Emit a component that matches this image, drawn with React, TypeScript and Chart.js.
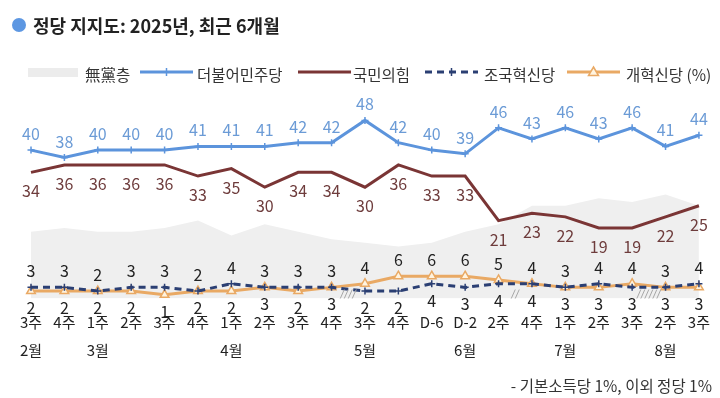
import React, { useEffect, useRef } from "react";
import { Chart, registerables } from "chart.js";

Chart.register(...registerables);

const weeks = ["3주", "4주", "1주", "2주", "3주", "4주", "1주", "2주", "3주", "4주", "3주", "4주", "D-6", "D-2", "2주", "4주", "1주", "2주", "3주", "2주", "3주"];
const months = ["2월", "", "3월", "", "", "", "4월", "", "", "", "5월", "", "", "6월", "", "", "7월", "", "", "8월", ""];
const independents = [18, 19, 18, 18, 19, 21, 17, 20, 18, 16, 15, 14, 15, 18, 20, 25, 25, 27, 26, 28, 25];
const democratic = [40, 38, 40, 40, 40, 41, 41, 41, 42, 42, 48, 42, 40, 39, 46, 43, 46, 43, 46, 41, 44];
const peoplePower = [34, 36, 36, 36, 36, 33, 35, 30, 34, 34, 30, 36, 33, 33, 21, 23, 22, 19, 19, 22, 25];
const rebuilding = [3, 3, 2, 3, 3, 2, 4, 3, 3, 3, 2, 2, 4, 3, 4, 4, 3, 4, 3, 3, 4];
const reform = [2, 2, 2, 2, 1, 2, 2, 3, 2, 3, 4, 6, 6, 6, 5, 4, 3, 3, 4, 3, 3];
const breakAfter = [9, 14, 18];
const breakCounts = [4, 2, 6];

const FONT = "'Noto Sans CJK KR', 'Noto Sans', sans-serif";
const BLUE = "#5c94dc";
const RED = "#7a3535";
const NAVY = "#2b3f73";
const ORANGE = "#e9a964";
const GRAY = "#efefef";

const labelPlugin = {
  id: "valueLabels",
  afterDatasetsDraw(chart: any) {
    const ctx = chart.ctx;
    ctx.save();
    ctx.font = `16px ${FONT}`;
    ctx.textAlign = "center";
    ctx.textBaseline = "middle";
    const mBlue = chart.getDatasetMeta(1).data;
    const mRed = chart.getDatasetMeta(2).data;
    const mNavy = chart.getDatasetMeta(3).data;
    const mOrange = chart.getDatasetMeta(4).data;
    for (let i = 0; i < weeks.length; i++) {
      ctx.fillStyle = "#6b9bd6";
      ctx.fillText(String(democratic[i]), mBlue[i].x, mBlue[i].y - 16);
      ctx.fillStyle = "#6e3c3c";
      ctx.fillText(String(peoplePower[i]), mRed[i].x, mRed[i].y + 19);
      ctx.fillStyle = "#222";
      const navyUp = rebuilding[i] >= reform[i];
      const up = navyUp ? mNavy[i] : mOrange[i];
      const dn = navyUp ? mOrange[i] : mNavy[i];
      const upV = navyUp ? rebuilding[i] : reform[i];
      const dnV = navyUp ? reform[i] : rebuilding[i];
      ctx.fillText(String(upV), up.x, Math.min(up.y, dn.y) - 16);
      ctx.fillText(String(dnV), dn.x, Math.max(up.y, dn.y) + 17);
    }
    // break marks
    ctx.strokeStyle = "#a8a8a8";
    ctx.lineWidth = 1;
    const y0 = chart.scales.y.getPixelForValue(0);
    breakAfter.forEach((idx, k) => {
      const xa = mBlue[idx].x;
      const xb = mBlue[idx + 1].x;
      const mid = (xa + xb) / 2;
      const n = breakCounts[k];
      const sp = 4;
      const start = mid - ((n - 1) * sp) / 2;
      for (let j = 0; j < n; j++) {
        const cx = start + j * sp;
        ctx.beginPath();
        ctx.moveTo(cx - 2, y0);
        ctx.lineTo(cx + 2, y0 - 9);
        ctx.stroke();
      }
    });
    ctx.restore();
  },
};

function ChartCanvas() {
  const ref = useRef<HTMLCanvasElement | null>(null);
  useEffect(() => {
    if (!ref.current) return;
    const labels = weeks.map((w, i) => [w, months[i]]);
    const chart = new Chart(ref.current, {
      type: "line",
      data: {
        labels,
        datasets: [
          {
            label: "無黨층",
            data: independents,
            borderWidth: 0,
            borderColor: GRAY,
            backgroundColor: GRAY,
            fill: "origin",
            pointRadius: 0,
            order: 10,
          },
          {
            label: "더불어민주당",
            data: democratic,
            borderColor: BLUE,
            borderWidth: 3,
            pointStyle: "cross",
            pointRadius: 3.5,
            pointBorderWidth: 1.5,
            pointBorderColor: BLUE,
            fill: false,
          },
          {
            label: "국민의힘",
            data: peoplePower,
            borderColor: RED,
            borderWidth: 3,
            pointRadius: 0,
            fill: false,
          },
          {
            label: "조국혁신당",
            data: rebuilding,
            borderColor: NAVY,
            borderWidth: 3,
            borderDash: [7, 5],
            pointStyle: "cross",
            pointRadius: 3.5,
            pointBorderWidth: 1.5,
            pointBorderColor: NAVY,
            fill: false,
          },
          {
            label: "개혁신당",
            data: reform,
            borderColor: ORANGE,
            borderWidth: 3,
            pointStyle: "triangle",
            pointRadius: 5,
            pointBorderWidth: 1.5,
            pointBorderColor: ORANGE,
            pointBackgroundColor: "#fff4e0",
            fill: false,
          },
        ],
      },
      options: {
        animation: false,
        responsive: false,
        devicePixelRatio: 1,
        layout: { padding: { left: 31, right: 21, top: 113, bottom: 23.5 } },
        plugins: { legend: { display: false }, tooltip: { enabled: false } },
        scales: {
          x: {
            grid: { display: false, drawTicks: false },
            border: { display: false },
            ticks: {
              autoSkip: false,
              maxRotation: 0,
              padding: 10,
              color: "#222",
              font: { family: FONT, size: 15, lineHeight: "28px" },
            },
          },
          y: {
            display: false,
            min: 0,
            max: 50,
          },
        },
      },
      plugins: [labelPlugin],
    } as any);
    return () => chart.destroy();
  }, []);
  return <canvas ref={ref} width={720} height={398} style={{ position: "absolute", left: 0, top: 0 }} />;
}

function LineSwatch({ color, dash, marker }: { color: string; dash?: boolean; marker?: string }) {
  return (
    <svg width={53} height={14} style={{ display: "block" }}>
      <line x1={0} y1={7} x2={53} y2={7} stroke={color} strokeWidth={3} strokeDasharray={dash ? "7 5" : undefined} />
      {marker === "cross" && <line x1={26.5} y1={3} x2={26.5} y2={11} stroke={color} strokeWidth={1.5} />}
      {marker === "triangle" && <polygon points="26.5,2 31.5,10.5 21.5,10.5" fill="#fff4e0" stroke={color} strokeWidth={1.5} />}
    </svg>
  );
}

const textStyle: React.CSSProperties = {
  position: "absolute",
  fontFamily: FONT,
  fontSize: 15.5,
  color: "#333",
  lineHeight: "18px",
  whiteSpace: "nowrap",
};

export default function App() {
  return (
    <div style={{ position: "fixed", left: 0, top: 0, width: 720, height: 398, background: "#fff", overflow: "hidden" }}>
      <ChartCanvas />
      <div style={{ position: "absolute", left: 12, top: 18, width: 14, height: 14, borderRadius: 7, background: "#5d97e2" }} />
      <div style={{ ...textStyle, left: 33, top: 15, fontSize: 18, fontWeight: 700, color: "#222", lineHeight: "20px" }}>
        정당 지지도: 2025년, 최근 6개월
      </div>
      <div style={{ position: "absolute", left: 28, top: 68, width: 50, height: 9, background: "#ececec" }} />
      <div style={{ ...textStyle, left: 85, top: 65 }}>無黨층</div>
      <div style={{ position: "absolute", left: 140, top: 65 }}><LineSwatch color={BLUE} marker="cross" /></div>
      <div style={{ ...textStyle, left: 197, top: 65 }}>더불어민주당</div>
      <div style={{ position: "absolute", left: 298, top: 65 }}><LineSwatch color={RED} /></div>
      <div style={{ ...textStyle, left: 353, top: 65 }}>국민의힘</div>
      <div style={{ position: "absolute", left: 425, top: 65 }}><LineSwatch color={NAVY} dash marker="cross" /></div>
      <div style={{ ...textStyle, left: 484, top: 65 }}>조국혁신당</div>
      <div style={{ position: "absolute", left: 567, top: 65 }}><LineSwatch color={ORANGE} marker="triangle" /></div>
      <div style={{ ...textStyle, left: 626, top: 65 }}>개혁신당 (%)</div>
      <div style={{ ...textStyle, right: 8, top: 376 }}>- 기본소득당 1%, 이외 정당 1%</div>
    </div>
  );
}
